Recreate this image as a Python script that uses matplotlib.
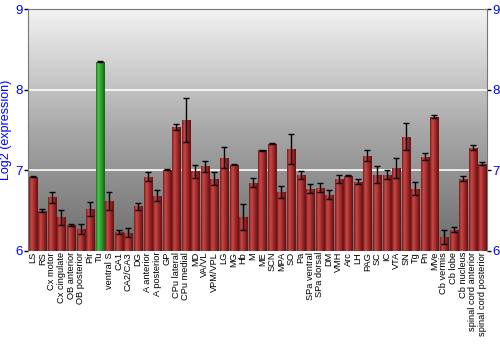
import numpy as np
import matplotlib
matplotlib.use('Agg')
import matplotlib.pyplot as plt
from matplotlib.colors import LinearSegmentedColormap

plt.rcParams['font.family'] = ['Liberation Sans', 'DejaVu Sans']

regions = ['LS', 'RS', 'Cx motor', 'Cx cingulate', 'OB anterior', 'OB posterior',
           'Pir', 'Tu', 'ventral S', 'CA1', 'CA2/CA3', 'DG', 'A anterior',
           'A posterior', 'GP', 'CPu lateral', 'CPu medial', 'MD', 'VA/VL',
           'VPM/VPL', 'LG', 'MG', 'Hb', 'M', 'ME', 'SCN', 'MPA', 'SO', 'Pa',
           'SPa ventral', 'SPa dorsal', 'DM', 'VMH', 'Arc', 'LH', 'PAG', 'SC',
           'IC', 'VTA', 'SN', 'Tg', 'Pn', 'MVe', 'Cb vermis', 'Cb lobe',
           'Cb nucleus', 'spinal cord anterior', 'spinal cord posterior']
expr = [6.917, 6.498, 6.664, 6.415, 6.32, 6.27, 6.515, 8.348, 6.614, 6.232,
        6.22, 6.552, 6.917, 6.685, 7.004, 7.539, 7.627, 6.988, 7.05, 6.892,
        7.153, 7.07, 6.419, 6.842, 7.249, 7.332, 6.726, 7.266, 6.946, 6.772,
        6.78, 6.693, 6.892, 6.934, 6.855, 7.183, 6.946, 6.942, 7.033, 7.419,
        6.772, 7.166, 7.664, 6.17, 6.261, 6.892, 7.278, 7.079]
err = [0.005, 0.02, 0.07, 0.095, 0.015, 0.065, 0.085, 0.005, 0.11, 0.025,
       0.055, 0.045, 0.055, 0.065, 0.005, 0.04, 0.27, 0.08, 0.07, 0.08,
       0.13, 0.005, 0.165, 0.055, 0.005, 0.01, 0.075, 0.19, 0.05, 0.055,
       0.055, 0.055, 0.045, 0.005, 0.03, 0.07, 0.11, 0.055, 0.125, 0.165,
       0.085, 0.045, 0.02, 0.083, 0.03, 0.03, 0.03, 0.02]
highlight = 'Tu'

red_cm = LinearSegmentedColormap.from_list('red', ['#7a1a1a', '#c44a4a', '#b03535', '#8a2020', '#661010'])
green_cm = LinearSegmentedColormap.from_list('green', ['#1f7a1f', '#4cc24c', '#36a836', '#248a24', '#166316'])
bg_cm = LinearSegmentedColormap.from_list('bg', ['#6b6b6b', '#a8a8a8', '#f2f2f2'])

fig = plt.figure(figsize=(5, 3.5), dpi=100)
ax = fig.add_axes([0.056, 0.284, 0.918, 0.689])

x = np.arange(len(regions))
base = 6
bars = ax.bar(x, np.array(expr) - base, bottom=base, width=0.84, color='none',
              edgecolor='none', zorder=2)

grad = np.linspace(0, 1, 64).reshape(1, -1)
for name, b in zip(regions, bars):
    cm = green_cm if name == highlight else red_cm
    im = ax.imshow(grad, cmap=cm, aspect='auto', zorder=2,
                   extent=[b.get_x(), b.get_x() + b.get_width(),
                           b.get_y(), b.get_y() + b.get_height()])
    im.set_clip_path(b)

ax.errorbar(x, expr, yerr=err, fmt='none', ecolor='black', elinewidth=1,
            capsize=2, capthick=1, zorder=3)

# background gradient
ax.imshow(np.linspace(0, 1, 256).reshape(-1, 1), cmap=bg_cm, aspect='auto',
          extent=[0, 1, 0, 1], transform=ax.transAxes, origin='lower', zorder=0)

ax.set_xlim(-0.5, len(regions) - 0.5)
ax.set_ylim(6, 9)
for yv in [7, 8]:
    ax.axhline(yv, color='white', lw=1.3, alpha=0.9, zorder=1)

ax.set_yticks([6, 7, 8, 9])
ax.tick_params(axis='y', which='both', left=True, right=True, labelleft=True,
               labelright=True, labelcolor='blue', labelsize=9.5, length=3,
               width=1, color='black', pad=1)
ax.set_xticks(x)
ax.set_xticklabels(regions, rotation=90, fontsize=6.7)
ax.tick_params(axis='x', length=0, pad=1)
ax.set_ylabel('Log2 (expression)', color='blue', fontsize=9, labelpad=2)

for s in ['left', 'right', 'top']:
    ax.spines[s].set_color('#777777')
ax.spines['bottom'].set_visible(False)

fig.savefig('out.png', dpi=100)
